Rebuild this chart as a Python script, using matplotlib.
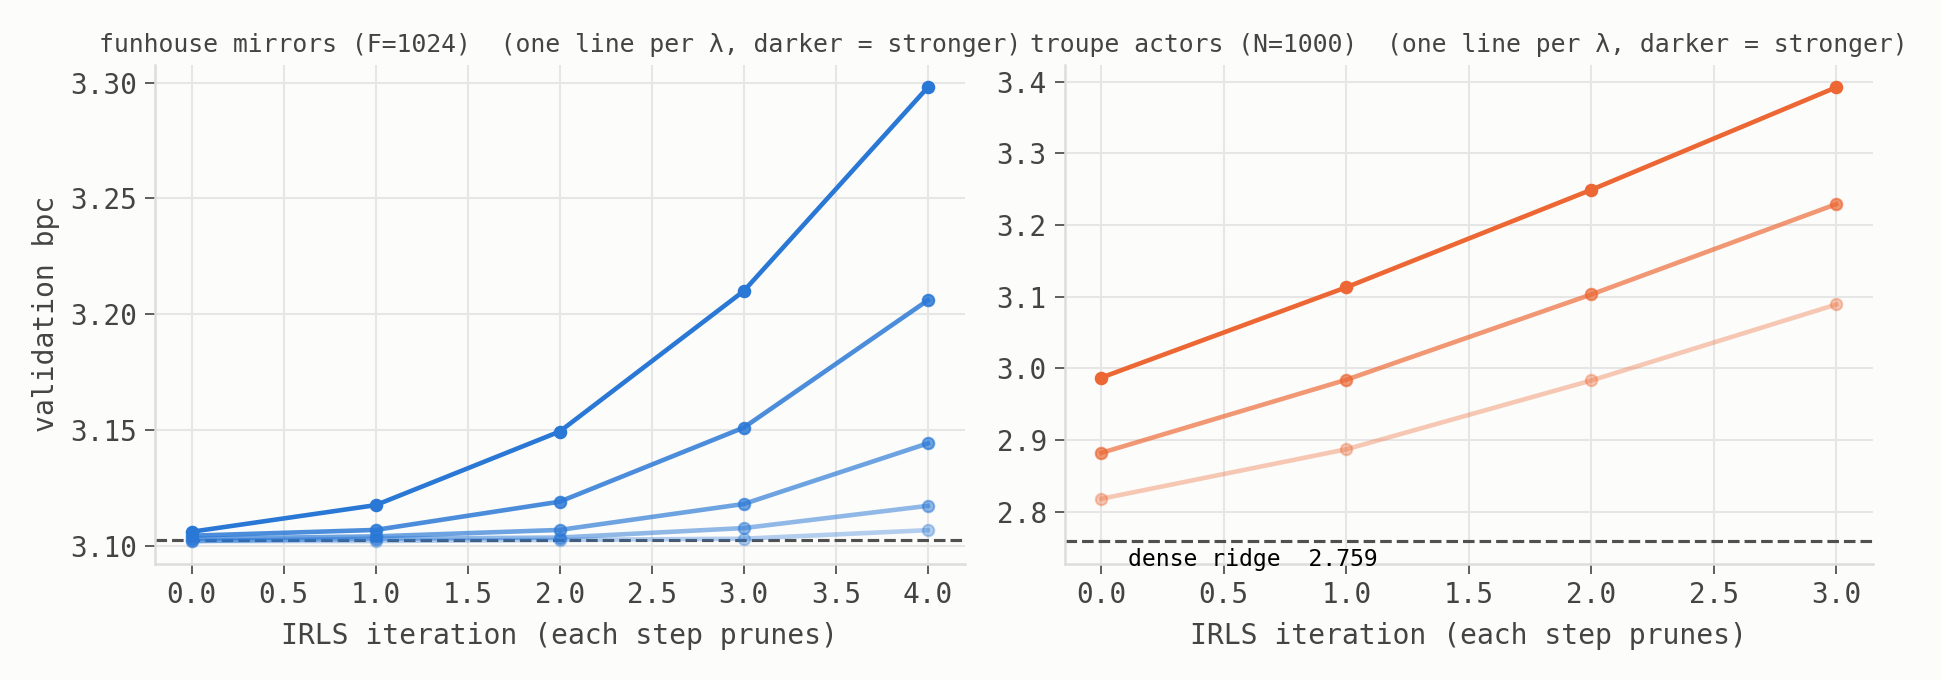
import numpy as np
import matplotlib.pyplot as plt
from matplotlib.ticker import MultipleLocator, FormatStrFormatter

# IRLS pruning sweeps, strongest lambda first
mirror_iters = [0, 1, 2, 3, 4]
mirror_bpc = [
    [3.1060, 3.1175, 3.1493, 3.2100, 3.2980],
    [3.1043, 3.1068, 3.1190, 3.1510, 3.2060],
    [3.1030, 3.1040, 3.1068, 3.1180, 3.1442],
    [3.1020, 3.1030, 3.1035, 3.1076, 3.1172],
    [3.1020, 3.1020, 3.1025, 3.1030, 3.1067],
]
mirror_dense = 3.1024

troupe_iters = [0, 1, 2, 3]
troupe_bpc = [
    [2.987, 3.113, 3.249, 3.392],
    [2.882, 2.984, 3.103, 3.229],
    [2.818, 2.887, 2.983, 3.089],
]
troupe_dense = 2.759

bg = '#fcfcfa'
txt = '#444444'
plt.rcParams['font.family'] = ['DejaVu Sans Mono', 'DejaVu Sans']

fig = plt.figure(figsize=(1941 / 150, 680 / 150), dpi=150, facecolor=bg)
ax1 = fig.add_axes([0.0797, 0.171, 0.4173, 0.734])
ax2 = fig.add_axes([0.5485, 0.171, 0.4165, 0.734])


def panel(ax, iters, runs, dense, color, title):
    n = len(runs)
    # lightest first so the strongest lambda ends up on top
    for i in reversed(range(n)):
        a = 1.0 - 0.65 * i / (n - 1)
        ax.plot(iters, runs[i], color=color, alpha=a, lw=2.2,
                marker='o', ms=5.5, zorder=3)
    ax.axhline(dense, color='#505050', ls='--', lw=1.5, zorder=2)
    ax.set_facecolor(bg)
    ax.grid(True, color='#e6e6e6', lw=1.0)
    ax.set_axisbelow(True)
    for s in ['top', 'right']:
        ax.spines[s].set_visible(False)
    for s in ['left', 'bottom']:
        ax.spines[s].set_color('#dddddd')
        ax.spines[s].set_linewidth(1.2)
    ax.tick_params(colors=txt, labelsize=13.3, length=5)
    ax.set_xlabel('IRLS iteration (each step prunes)', color=txt,
                  fontsize=13.5, labelpad=6)
    ax.set_title(title, color=txt, fontsize=11.9)


panel(ax1, mirror_iters, mirror_bpc, mirror_dense, '#2a78d6',
      'funhouse mirrors (F=1024)  (one line per λ, darker = stronger)')
ax1.set_ylabel('validation bpc', color=txt, fontsize=13.5, labelpad=5)
ax1.yaxis.set_major_locator(MultipleLocator(0.05))
ax1.yaxis.set_major_formatter(FormatStrFormatter('%.2f'))

panel(ax2, troupe_iters, troupe_bpc, troupe_dense, '#ec6733',
      'troupe actors (N=1000)  (one line per λ, darker = stronger)')
ax2.text(0.11, troupe_dense - 0.026, f'dense ridge  {troupe_dense}',
         fontsize=11.1, color='black', va='center', clip_on=False, zorder=5)

fig.savefig('out.png', dpi=150, facecolor=bg)
